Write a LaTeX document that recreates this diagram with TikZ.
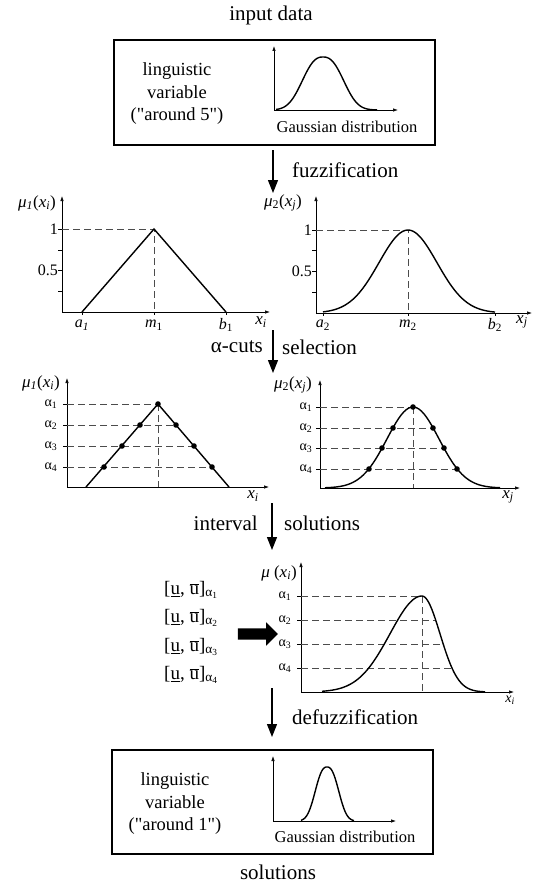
\documentclass[tikz,border=0pt]{standalone}
\usepackage{fontspec}
\setmainfont{Liberation Serif}
\usetikzlibrary{arrows.meta,shapes.arrows}

% etiquetas
\newcommand{\ux}[1]{\textit{x}\textsubscript{\textit{#1}}}
\newcommand{\mulab}[2]{\textit{μ}\textsubscript{#1}(\ux{#2})}
\newcommand{\alp}[1]{α\textsubscript{#1}}
\newcommand{\intv}[1]{[\underline{u}, $\overline{\mbox{u}}$]\textsubscript{\alp{#1}}}

\begin{document}
\begin{tikzpicture}[x=1pt, y=-1pt,
    every node/.style={inner sep=1pt},
    declare function={gauss(\t)=exp(-0.5*\t*\t); supg(\t)=exp(-(\t*\t*sqrt(\t)));},
    mainlbl/.style={font=\fontsize{21}{25}\selectfont},
    boxtxt/.style={font=\fontsize{18.5}{22.5}\selectfont, align=center},
    disttxt/.style={font=\fontsize{16.5}{19}\selectfont},
    ticklbl/.style={font=\fontsize{16}{18}\selectfont},
    mulbl/.style={font=\fontsize{17}{19}\selectfont},
    alphalbl/.style={font=\fontsize{14}{16}\selectfont},
    intlbl/.style={font=\fontsize{19}{22}\selectfont, anchor=west},
    boxframe/.style={draw, line width=1.3pt, minimum width=321pt, minimum height=105pt},
    axis/.style={line width=0.7pt, -{Latex[length=5pt,width=3.5pt]}},
    curve/.style={line width=1.4pt},
    guide/.style={black!70, line width=0.8pt, dash pattern=on 7pt off 4pt},
    flow/.style={line width=1.2pt, -{Triangle[length=13pt,width=10pt]}},
    tickln/.style={line width=0.7pt}
]
    \useasboundingbox (0,0) rectangle (533,883);

    % datos de entrada
    \node[mainlbl] (indata) at (271,15) {input data};
    \node[boxframe] (box1) at (274.5,92.5) {};
    \node[boxtxt] (ling1) at (177,94) {linguistic\\variable\\(\textquotedbl around 5\textquotedbl)};
    \coordinate (o1) at (274,110);
    \draw[axis] (o1) -- (274,46);
    \draw[axis] (o1) -- (398,110);
    \draw[curve] plot[domain=276:377, samples=60] (\x,{110-53*supg(abs(\x-323)/25.5)});
    \node[disttxt] (dist1) at (347,127) {Gaussian distribution};

    % fuzzificacion
    \coordinate (fzA) at (273,150);
    \coordinate (fzB) at (273,193);
    \draw[flow] (fzA) -- (fzB);
    \node[mainlbl, anchor=west] (fz) at (291,170) {fuzzification};

    % funcion triangular
    \coordinate (o2) at (62,312);
    \draw[axis] (o2) -- (62,196);
    \draw[axis] (o2) -- (270,312);
    \foreach \t in {229,250,270,291} \draw[tickln] (58,\t) -- (62,\t);
    \foreach \t in {82,154,226} \draw[tickln] (\t,312) -- (\t,315);
    \node[ticklbl, anchor=east] (one2) at (59,229) {1};
    \node[ticklbl, anchor=east] (half2) at (59,270) {0.5};
    \node[ticklbl] (a1) at (82,325) {\textit{a}\textsubscript{\textit{1}}};
    \node[ticklbl] (m1) at (154,325) {\textit{m}\textsubscript{1}};
    \node[ticklbl] (b1) at (226,325) {\textit{b}\textsubscript{1}};
    \node[mulbl] (xi2) at (261,322) {\ux{i}};
    \node[mulbl] (mu2) at (37,203) {\mulab{\textit{1}}{i}};
    \draw[guide] (62,229) -- (154,229) -- (154,312);
    \draw[curve] (82,312) -- (154,229) -- (226,312);

    % funcion gaussiana
    \coordinate (o3) at (316,313);
    \draw[axis] (o3) -- (316,196);
    \draw[axis] (o3) -- (532,313);
    \foreach \t in {230,250,271,292} \draw[tickln] (312,\t) -- (316,\t);
    \foreach \t in {323,408,495} \draw[tickln] (\t,313) -- (\t,316);
    \node[ticklbl, anchor=east] (one3) at (313,230) {1};
    \node[ticklbl, anchor=east] (half3) at (313,271) {0.5};
    \node[ticklbl] (a2) at (323,325) {\textit{a}\textsubscript{2}};
    \node[ticklbl] (m2) at (408,325) {\textit{m}\textsubscript{2}};
    \node[ticklbl] (b2) at (495,325) {\textit{b}\textsubscript{2}};
    \node[mulbl, anchor=west] (xj3) at (515,322) {\ux{j}};
    \node[mulbl] (mu3) at (283,203) {\mulab{2}{j}};
    \draw[guide] (316,230) -- (408,230) -- (408,313);
    \draw[curve] plot[domain=323:495, samples=70] (\x,{313-83*gauss((\x-408)/29)});

    % alfa-cortes
    \coordinate (acA) at (273,330);
    \coordinate (acB) at (273,373);
    \draw[flow] (acA) -- (acB);
    \node[mainlbl, anchor=east] (acut) at (264,347) {α-cuts};
    \node[mainlbl, anchor=west] (sel) at (281,347) {selection};

    % cortes del triangulo
    \coordinate (o4) at (67,487);
    \draw[axis] (o4) -- (67,378);
    \draw[axis] (o4) -- (269,487);
    \foreach \y/\n in {404/1,425/2,446/3,467/4} {
        \draw[tickln] (63,\y) -- (67,\y);
        \node[alphalbl] at (51,\y) {\alp{\n}};
    }
    \node[mulbl] (mu4) at (41,383) {\mulab{\textit{1}}{i}};
    \node[mulbl] (xi4) at (253,496) {\ux{i}};
    \draw[guide] (158,404) -- (158,487);
    \foreach \y/\xr in {404/158,425/176,446/194,467/212} \draw[guide] (67,\y) -- (\xr,\y);
    \draw[curve] (86,487) -- (158,404) -- (229,487);
    \foreach \px/\py in {158/404,140/425,176/425,122/446,194/446,104/467,212/467}
        \fill (\px,\py) circle (2.8pt);

    % cortes de la gaussiana
    \coordinate (o5) at (320,488);
    \draw[axis] (o5) -- (320,380);
    \draw[axis] (o5) -- (520,488);
    \foreach \y/\n in {407/1,428/2,448/3,469/4} {
        \draw[tickln] (316,\y) -- (320,\y);
        \node[alphalbl] at (306,\y) {\alp{\n}};
    }
    \node[mulbl] (mu5) at (293,385) {\mulab{2}{j}};
    \node[mulbl] (xj5) at (508,497) {\ux{j}};
    \draw[guide] (413,407) -- (413,488);
    \foreach \y/\xr in {407/413,428/433,448/444,469/457} \draw[guide] (320,\y) -- (\xr,\y);
    \draw[curve] plot[domain=325:500, samples=70] (\x,{488-81*gauss((\x-413)/26)});
    \foreach \px/\py in {413/407,393/428,433/428,382/448,444/448,369/469,457/469}
        \fill (\px,\py) circle (2.8pt);

    % soluciones intervalo
    \coordinate (isA) at (272,503);
    \coordinate (isB) at (272,550);
    \draw[flow] (isA) -- (isB);
    \node[mainlbl, anchor=east] (intv) at (259,523) {interval};
    \node[mainlbl, anchor=west] (sols) at (283,523) {solutions};

    \node[intlbl] (u1) at (163,590) {\intv{1}};
    \node[intlbl] (u2) at (163,618) {\intv{2}};
    \node[intlbl] (u3) at (163,647) {\intv{3}};
    \node[intlbl] (u4) at (163,675) {\intv{4}};
    \node[single arrow, fill=black, draw=none, inner xsep=0pt, inner ysep=5.5pt,
          single arrow head extend=6pt, minimum height=40pt] (bigarr) at (255,634) {};

    % funcion resultante
    \coordinate (o6) at (301,692);
    \draw[axis] (o6) -- (301,562);
    \draw[axis] (o6) -- (514,692);
    \foreach \y/\n in {596/1,620/2,644/3,668/4} {
        \draw[tickln] (297,\y) -- (301,\y);
        \node[alphalbl] at (285,\y) {\alp{\n}};
    }
    \node[mulbl] (mu6) at (279,573) {\textit{μ} (\ux{i})};
    \node[alphalbl] (xi6) at (510,700) {\ux{i}};
    \draw[guide] (422,596) -- (422,692);
    \foreach \y/\xr in {596/422,620/436,644/443,668/452} \draw[guide] (301,\y) -- (\xr,\y);
    \draw[curve] plot[domain=322:422, samples=60] (\x,{692-96*gauss((\x-422)/32)})
        -- plot[domain=422:485, samples=40] (\x,{692-96*gauss((\x-422)/18)});

    % defuzzificacion
    \coordinate (dfA) at (272,688);
    \coordinate (dfB) at (272,737);
    \draw[flow] (dfA) -- (dfB);
    \node[mainlbl, anchor=west] (dfz) at (291,717) {defuzzification};

    % salida
    \node[boxframe, minimum height=104pt] (box2) at (272.5,802) {};
    \node[boxtxt] (ling2) at (175,804) {linguistic\\variable\\(\textquotedbl around 1\textquotedbl)};
    \coordinate (o7) at (273,821);
    \draw[axis] (o7) -- (273,756);
    \draw[axis] (o7) -- (396,821);
    \draw[curve] plot[domain=301:354, samples=60] (\x,{821-54*supg(abs(\x-327)/14.5)});
    \node[disttxt] (dist2) at (345,837) {Gaussian distribution};
    \node[mainlbl] (outsol) at (278,872) {solutions};

\end{tikzpicture}
\end{document}
